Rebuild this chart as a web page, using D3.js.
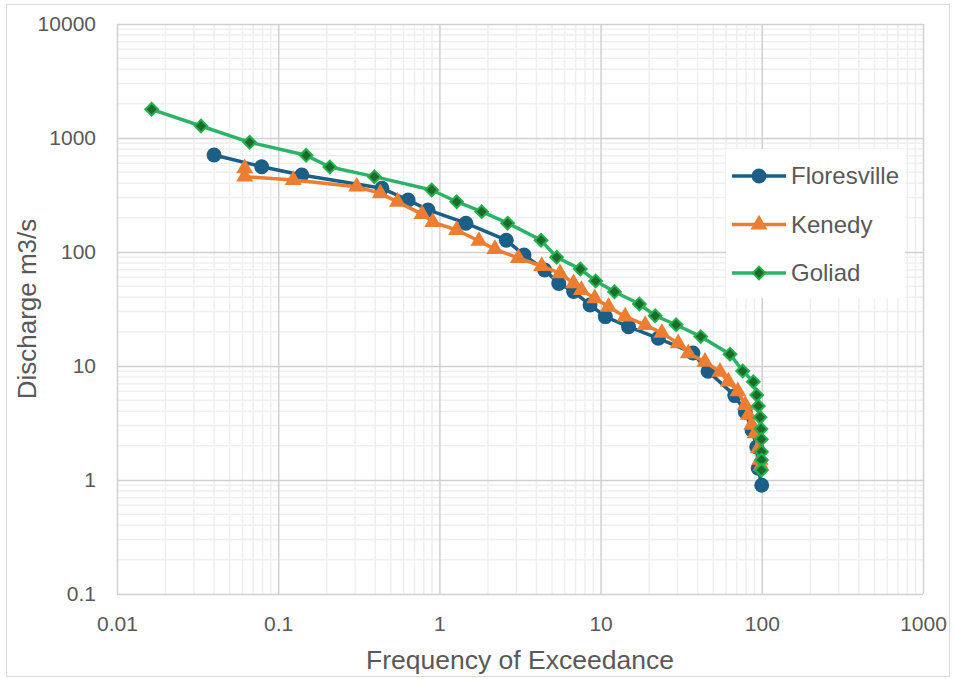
<!DOCTYPE html>
<html>
<head>
<meta charset="utf-8">
<script src="https://cdn.jsdelivr.net/npm/d3@7/dist/d3.min.js"></script>
<style>
  body { margin: 0; background: #fff; }
  svg { display: block; font-family: "Liberation Sans", Arial, sans-serif; }
</style>
</head>
<body>
<svg id="chart" width="957" height="679"></svg>
<script>
// frequency of exceedance (%) and discharge (m3/s)
var floresvilleX = [0.040, 0.079, 0.14, 0.44, 0.64, 0.85, 1.46, 2.6, 3.35, 4.5, 5.5, 6.8, 8.6, 10.7, 14.9, 22.8, 37.4, 46.4, 68, 79, 87, 93, 95, 99.9];
var floresvilleY = [710, 560, 474, 362, 286, 234, 179, 127, 94, 69.5, 53, 45, 34.3, 27.1, 22.1, 17.5, 13.0, 9.0, 5.5, 3.95, 2.75, 1.95, 1.27, 0.90];

var kenedyX = [0.062, 0.062, 0.124, 0.307, 0.43, 0.55, 0.78, 0.91, 1.28, 1.76, 2.21, 3.09, 4.31, 5.6, 6.8, 7.6, 9.2, 11.2, 14.2, 18.9, 24, 30.3, 35, 44.4, 55, 62, 71, 79, 82.5, 86.6, 90.8, 95.1, 97.5, 98.9];
var kenedyY = [542, 458, 428, 374, 327, 275, 215, 183, 156, 125, 106, 88.6, 75.4, 65, 53, 46.4, 39.3, 33.1, 27.1, 22.9, 19.5, 15.8, 12.9, 10.9, 8.9, 7.3, 6.0, 4.55, 3.72, 3.04, 2.57, 1.90, 1.50, 1.33];

var goliadX = [0.0164, 0.0332, 0.0665, 0.149, 0.209, 0.395, 0.896, 1.28, 1.83, 2.65, 4.27, 5.34, 7.48, 9.32, 12.2, 17.4, 21.8, 29.4, 41.8, 63.5, 76.1, 88.6, 93, 95.1, 97.5, 98.9, 99.3, 99.6, 99.6, 99.4];
var goliadY = [1785, 1274, 917, 705, 557, 458, 350, 276, 226, 179, 127, 89.8, 70.9, 55.7, 44.8, 35.0, 27.6, 23.0, 18.1, 12.7, 9.04, 7.28, 5.57, 4.46, 3.55, 2.80, 2.28, 1.77, 1.50, 1.22];

var seriesNames = ['Floresville', 'Kenedy', 'Goliad'];
var xTicks = [0.01, 0.1, 1, 10, 100, 1000];
var xTickLabels = ['0.01', '0.1', '1', '10', '100', '1000'];
var yTicks = [0.1, 1, 10, 100, 1000, 10000];
var yTickLabels = ['0.1', '1', '10', '100', '1000', '10000'];

// diamond = square turned 45 degrees, like the spreadsheet marker
var series = [
  {name: seriesNames[0], xs: floresvilleX, ys: floresvilleY, line: '#1b5e86', fill: '#1b5e86', stroke: 'none', symbol: d3.symbolCircle, size: 175, rot: 0},
  {name: seriesNames[1], xs: kenedyX, ys: kenedyY, line: '#ed7d31', fill: '#ed7d31', stroke: 'none', symbol: d3.symbolTriangle, size: 125, rot: 0},
  {name: seriesNames[2], xs: goliadX, ys: goliadY, line: '#2bb467', fill: '#1d6b2b', stroke: '#22b14c', symbol: d3.symbolSquare, size: 80, rot: 45}
];

var plot = {left: 117, right: 923, top: 24, bottom: 594};
var svg = d3.select('#chart');

// outer frame
svg.append('rect')
  .attr('x', 6.5).attr('y', 4.5)
  .attr('width', 943).attr('height', 672)
  .attr('fill', '#fff')
  .attr('stroke', '#d9d9d9');

var x = d3.scaleLog().domain([0.01, 1000]).range([plot.left, plot.right]);
var y = d3.scaleLog().domain([0.1, 10000]).range([plot.bottom, plot.top]);

// minor gridlines
var minorX = [], minorY = [];
for (var k = -2; k <= 2; k++) for (var m = 2; m <= 9; m++) minorX.push(m * Math.pow(10, k));
for (var k2 = -1; k2 <= 3; k2++) for (var m2 = 2; m2 <= 9; m2++) minorY.push(m2 * Math.pow(10, k2));

var grid = svg.append('g');
grid.selectAll('.vminor').data(minorX).enter().append('line')
  .attr('x1', function(d){ return x(d); }).attr('x2', function(d){ return x(d); })
  .attr('y1', plot.top).attr('y2', plot.bottom)
  .attr('stroke', '#efefef').attr('stroke-width', 1.5);
grid.selectAll('.hminor').data(minorY).enter().append('line')
  .attr('y1', function(d){ return y(d); }).attr('y2', function(d){ return y(d); })
  .attr('x1', plot.left).attr('x2', plot.right)
  .attr('stroke', '#efefef').attr('stroke-width', 1.5);

// major gridlines + tick labels through the axes
var yAxis = d3.axisLeft(y)
  .tickValues(yTicks)
  .tickSize(-(plot.right - plot.left))
  .tickPadding(21)
  .tickFormat(function(d, i){ return yTickLabels[i]; });
var xAxis = d3.axisBottom(x)
  .tickValues(xTicks)
  .tickSize(-(plot.bottom - plot.top))
  .tickPadding(22)
  .tickFormat(function(d, i){ return xTickLabels[i]; });

var gy = svg.append('g').attr('transform', 'translate(' + plot.left + ',0)').call(yAxis);
var gx = svg.append('g').attr('transform', 'translate(0,' + plot.bottom + ')').call(xAxis);
[gx, gy].forEach(function(g){
  g.select('.domain').remove();
  g.selectAll('.tick line').attr('stroke', '#d0d0d0').attr('stroke-width', 1.5);
  g.selectAll('.tick text')
    .attr('fill', '#595959')
    .style('font-size', '21px');
});

// series
var line = d3.line()
  .x(function(d){ return x(d[0]); })
  .y(function(d){ return y(d[1]); });

series.forEach(function(s){
  var pts = s.xs.map(function(v, i){ return [v, s.ys[i]]; });
  svg.append('path')
    .datum(pts)
    .attr('d', line)
    .attr('fill', 'none')
    .attr('stroke', s.line)
    .attr('stroke-width', 3.5)
    .attr('stroke-linejoin', 'round');
  svg.append('g').selectAll('path').data(pts).enter().append('path')
    .attr('transform', function(d){ return 'translate(' + x(d[0]) + ',' + y(d[1]) + ') rotate(' + s.rot + ')'; })
    .attr('d', d3.symbol().type(s.symbol).size(s.size))
    .attr('fill', s.fill)
    .attr('stroke', s.stroke)
    .attr('stroke-width', 2);
});

// legend
var legend = svg.append('g');
legend.append('rect')
  .attr('x', 726).attr('y', 149)
  .attr('width', 179).attr('height', 149)
  .attr('fill', '#fff');
series.forEach(function(s, i){
  var ly = 176 + i * 48.5;
  legend.append('line')
    .attr('x1', 732).attr('x2', 786)
    .attr('y1', ly).attr('y2', ly)
    .attr('stroke', s.line).attr('stroke-width', 3.5);
  legend.append('path')
    .attr('transform', 'translate(759,' + ly + ') rotate(' + s.rot + ')')
    .attr('d', d3.symbol().type(s.symbol).size(s.size))
    .attr('fill', s.fill)
    .attr('stroke', s.stroke)
    .attr('stroke-width', 2);
  legend.append('text')
    .attr('x', 791).attr('y', ly)
    .attr('dy', '0.35em')
    .attr('fill', '#595959')
    .style('font-size', '24px')
    .text(s.name);
});

// axis titles
svg.append('text')
  .attr('x', (plot.left + plot.right) / 2).attr('y', 660)
  .attr('dy', '0.35em')
  .attr('text-anchor', 'middle')
  .attr('fill', '#595959')
  .style('font-size', '26.5px')
  .text('Frequency of Exceedance');

svg.append('text')
  .attr('transform', 'translate(27,' + (plot.top + plot.bottom) / 2 + ') rotate(-90)')
  .attr('dy', '0.35em')
  .attr('text-anchor', 'middle')
  .attr('fill', '#595959')
  .style('font-size', '26px')
  .text('Discharge m3/s');
</script>
</body>
</html>
